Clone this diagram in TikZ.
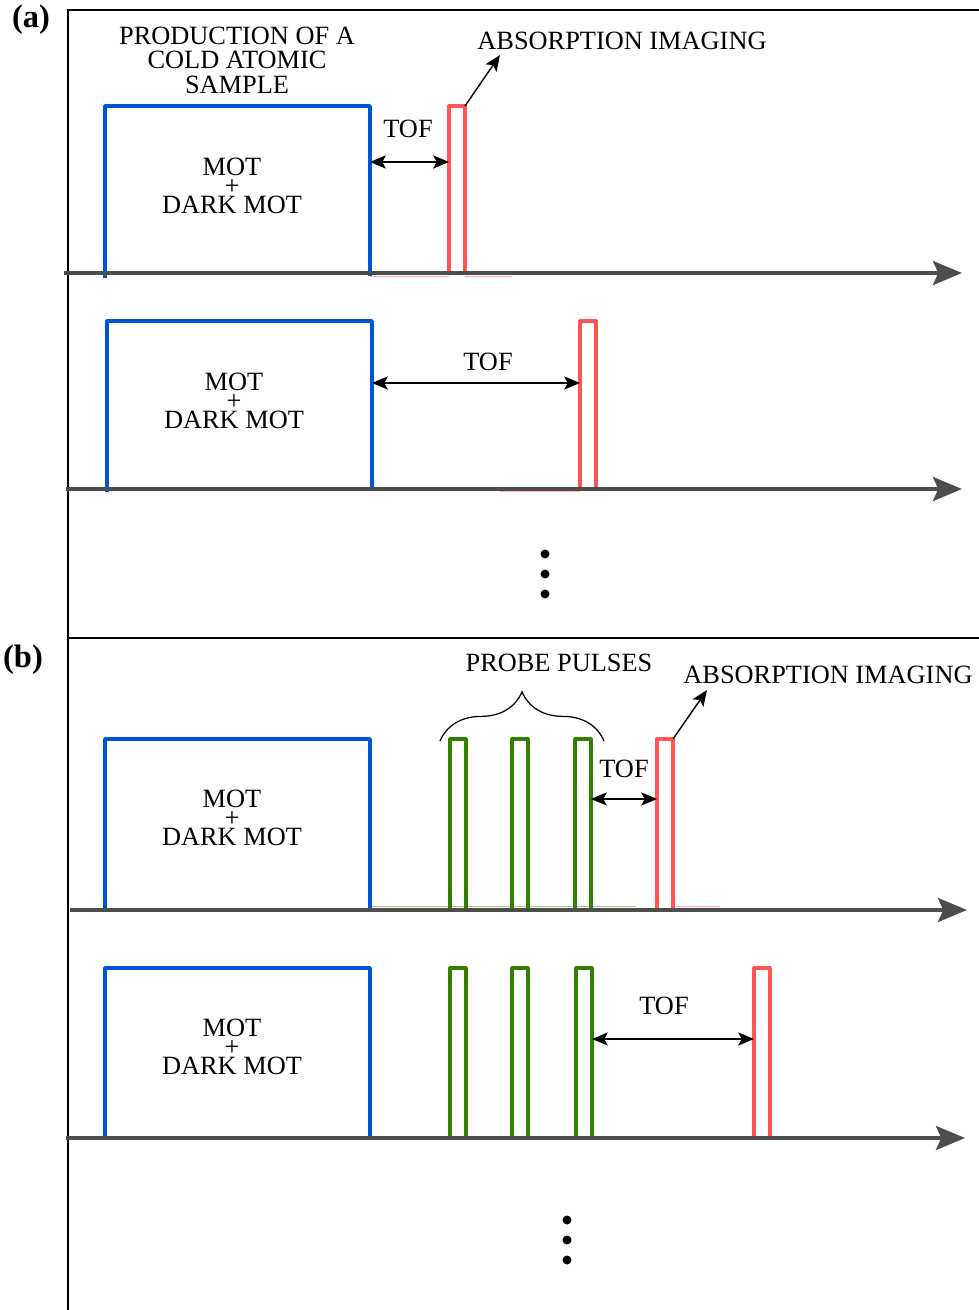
\documentclass[tikz,border=0pt]{standalone}
\usepackage{fontspec}
\setmainfont{Liberation Serif}
\usetikzlibrary{arrows.meta, decorations.pathreplacing}
\definecolor{motblue}{HTML}{0055D4}
\definecolor{imgred}{HTML}{FF5555}
\definecolor{probegreen}{HTML}{338000}
\definecolor{axisgray}{HTML}{4D4D4D}

\begin{document}
\begin{tikzpicture}[x=0.02cm, y=-0.02cm,
	font=\fontsize{15}{13.9}\selectfont,
	timeaxis/.style={draw=axisgray, line width=2.3pt, -{Stealth[length=16.5pt,width=13.6pt,inset=3pt]}},
	motbox/.style={draw=motblue, line width=2pt, line join=round},
	imgpulse/.style={draw=imgred, line width=1.8pt, line join=round},
	probepulse/.style={draw=probegreen, line width=1.8pt, line join=round},
	ghost/.style={line width=0.6pt, opacity=0.45},
	tofarrow/.style={line width=0.8pt, {Stealth[length=9pt,width=7.5pt,inset=2pt]}-{Stealth[length=9pt,width=7.5pt,inset=2pt]}},
	labelarrow/.style={line width=0.8pt, -{Stealth[length=9pt,width=7.5pt,inset=2pt]}},
	stack/.style={align=center, inner sep=0pt, font=\fontsize{15}{10.8}\selectfont},
	txt/.style={inner sep=0pt},
	panel/.style={inner sep=0pt, font=\fontsize{18.5}{20}\selectfont\bfseries}]
	\useasboundingbox (0,0) rectangle (979,1310);

	% frame
	\draw[line width=0.85pt] (68,1310) -- (68,10) -- (979,10);
	\draw[line width=0.85pt] (68,638) -- (979,638);
	\node[panel] (lbla) at (31,20) {(a)};
	\node[panel] (lblb) at (23,660) {(b)};

	% (a) first sequence
	\draw[ghost, imgred] (370,276.5) -- (449,276.5) (465,276.5) -- (512,276.5);
	\draw[motbox] (105,278) -- (105,106) -- (370,106) -- (370,276);
	\draw[imgpulse] (449,274) -- (449,106) -- (465,106) -- (465,274);
	\coordinate (ax1s) at (64,273);
	\coordinate (ax1e) at (962,273);
	\draw[timeaxis] (ax1s) -- (ax1e);
	\node[txt, align=center] (prod) at (237,60) {PRODUCTION OF A\\COLD ATOMIC\\SAMPLE};
	\node[stack] (mot1) at (232,186) {MOT\\+\\DARK MOT};
	\coordinate (box1r) at (370,162);
	\coordinate (img1l) at (449,162);
	\draw[tofarrow] (box1r) -- (img1l);
	\node[txt] (tof1) at (408,129) {TOF};
	\coordinate (img1c) at (465,106);
	\coordinate (abs1tip) at (500,55);
	\draw[labelarrow] (img1c) -- (abs1tip);
	\node[txt] (abs1) at (622,41) {ABSORPTION IMAGING};

	% (a) second sequence
	\draw[ghost, imgred] (500,491.5) -- (580,491.5);
	\draw[motbox] (107,492) -- (107,321) -- (372,321) -- (372,490);
	\draw[imgpulse] (580,490) -- (580,321) -- (596,321) -- (596,490);
	\coordinate (ax2s) at (66,489);
	\coordinate (ax2e) at (962,489);
	\draw[timeaxis] (ax2s) -- (ax2e);
	\node[stack] (mot2) at (234,401) {MOT\\+\\DARK MOT};
	\coordinate (box2r) at (372,383);
	\coordinate (img2l) at (580,383);
	\draw[tofarrow] (box2r) -- (img2l);
	\node[txt] (tof2) at (488,362) {TOF};

	\fill (545,554) circle[radius=0.09cm];
	\fill (545,574) circle[radius=0.09cm];
	\fill (545,594) circle[radius=0.09cm];

	% (b) first sequence
	\draw[ghost, probegreen] (370,906.5) -- (636,906.5);
	\draw[ghost, imgred] (673,906.5) -- (720,906.5);
	\draw[motbox] (105,911) -- (105,739) -- (370,739) -- (370,910);
	\draw[probepulse] (450,910) -- (450,739) -- (466,739) -- (466,910);
	\draw[probepulse] (512,910) -- (512,739) -- (528,739) -- (528,910);
	\draw[probepulse] (575,910) -- (575,739) -- (591,739) -- (591,910);
	\draw[imgpulse] (657,910) -- (657,739) -- (673,739) -- (673,910);
	\coordinate (ax3s) at (70,910);
	\coordinate (ax3e) at (967,910);
	\draw[timeaxis] (ax3s) -- (ax3e);
	\node[stack] (mot3) at (232,818) {MOT\\+\\DARK MOT};
	\coordinate (brl) at (440,741);
	\coordinate (brr) at (604,741);
	\draw[line width=0.7pt, decorate, decoration={brace, amplitude=28pt}] (brl) -- (brr);
	\node[txt] (probe) at (559,663) {PROBE PULSES};
	\coordinate (pr3r) at (591,799);
	\coordinate (img3l) at (657,799);
	\draw[tofarrow] (pr3r) -- (img3l);
	\node[txt] (tof3) at (624,769) {TOF};
	\coordinate (img3c) at (673,739);
	\coordinate (abs3tip) at (707,690);
	\draw[labelarrow] (img3c) -- (abs3tip);
	\node[txt] (abs3) at (828,675) {ABSORPTION IMAGING};

	% (b) second sequence
	\draw[motbox] (105,1139) -- (105,968) -- (370,968) -- (370,1138);
	\draw[probepulse] (450,1138) -- (450,968) -- (466,968) -- (466,1138);
	\draw[probepulse] (512,1138) -- (512,968) -- (528,968) -- (528,1138);
	\draw[probepulse] (576,1138) -- (576,968) -- (592,968) -- (592,1138);
	\draw[imgpulse] (754,1138) -- (754,968) -- (770,968) -- (770,1138);
	\coordinate (ax4s) at (66,1138);
	\coordinate (ax4e) at (965,1138);
	\draw[timeaxis] (ax4s) -- (ax4e);
	\node[stack] (mot4) at (232,1047) {MOT\\+\\DARK MOT};
	\coordinate (pr4r) at (592,1039);
	\coordinate (img4l) at (754,1039);
	\draw[tofarrow] (pr4r) -- (img4l);
	\node[txt] (tof4) at (664,1006) {TOF};

	\fill (567,1220) circle[radius=0.09cm];
	\fill (567,1240) circle[radius=0.09cm];
	\fill (567,1260) circle[radius=0.09cm];
\end{tikzpicture}
\end{document}
